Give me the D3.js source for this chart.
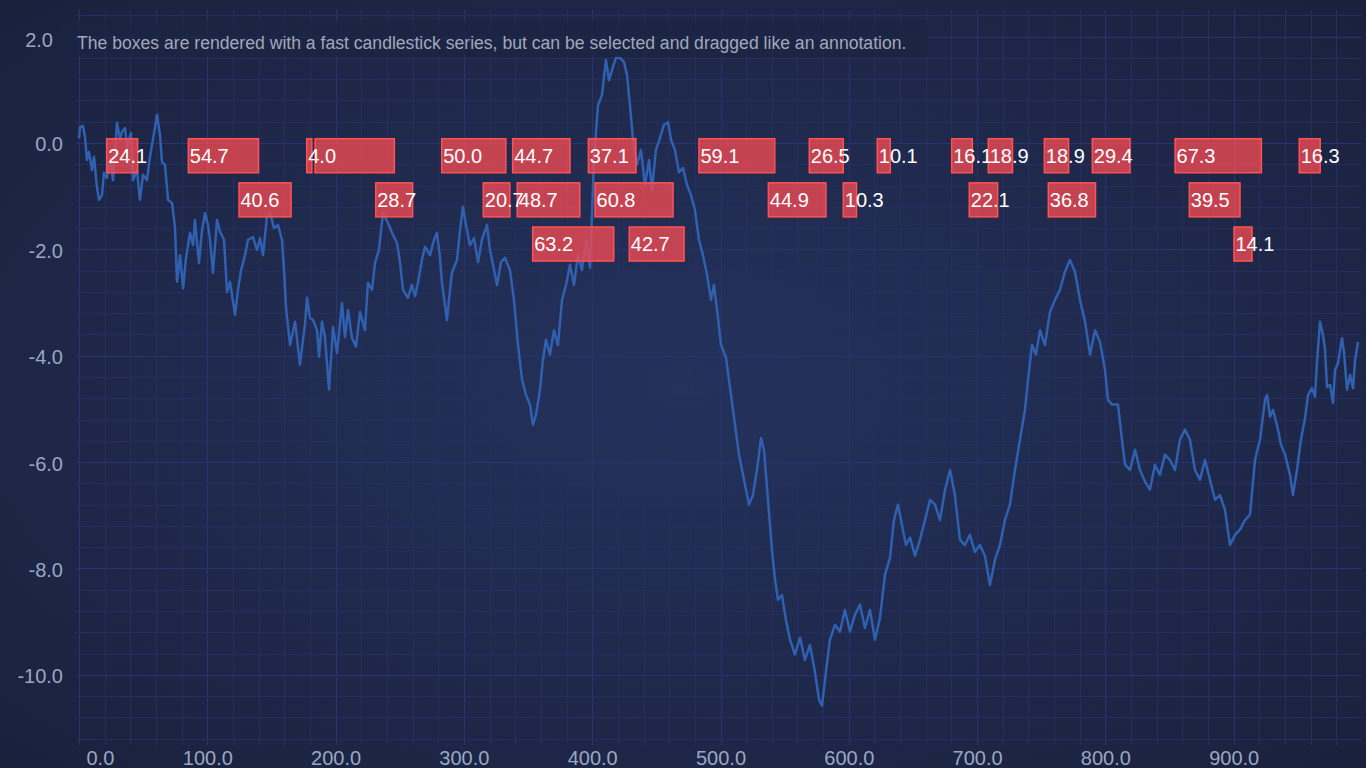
<!DOCTYPE html>
<html>
<head>
<meta charset="utf-8">
<script src="https://cdn.jsdelivr.net/npm/d3@7"></script>
<style>
html, body { margin: 0; padding: 0; background: #1c2442; overflow: hidden; }
svg { display: block; }
</style>
</head>
<body>
<script>
// random walk series (x, y)
const seriesX = [0, 0.8, 3.1, 4.7, 6.2, 7.8, 10.1, 11.7, 14.0, 15.6, 17.9, 19.5, 21.8, 24.2, 26.5, 29.6, 32.0, 33.5, 35.9, 37.4,
    40.5, 42.1, 45.2, 47.5, 49.9, 53.0, 55.3, 58.5, 60.8, 63.1, 64.7, 67.0, 69.4, 72.5, 74.8, 76.4, 78.7, 81.1, 83.4, 86.5,
    88.9, 90.4, 93.5, 95.9, 98.2, 100.5, 102.1, 104.4, 107.6, 109.9, 113.0, 115.4, 117.7, 121.6, 123.9, 126.3, 129.4, 131.7, 135.6, 138.7,
    141.1, 143.4, 146.5, 148.9, 152.0, 155.1, 158.2, 159.8, 161.3, 164.5, 168.4, 172.2, 176.1, 177.7, 180.0, 182.4, 185.5, 187.1, 189.4, 191.7,
    194.9, 198.0, 201.1, 205.0, 207.3, 209.7, 212.8, 215.9, 219.0, 222.9, 225.2, 228.4, 230.7, 233.8, 236.9, 240.8, 244.0, 247.8, 250.2, 252.5,
    256.4, 259.5, 261.9, 264.2, 267.3, 269.7, 273.6, 276.7, 279.0, 281.4, 282.9, 286.8, 289.2, 290.7, 294.6, 297.0, 299.3, 301.6, 304.7, 307.9,
    311.0, 314.1, 318.0, 320.3, 323.5, 325.8, 328.9, 332.0, 335.9, 339.0, 342.2, 345.3, 348.4, 351.5, 353.8, 356.2, 359.3, 361.6, 364.0, 367.1,
    370.2, 373.3, 376.5, 379.6, 382.7, 385.8, 388.9, 392.0, 395.2, 398.3, 401.4, 404.5, 407.6, 410.7, 413.1, 415.4, 418.5, 421.7, 424.8, 427.1,
    429.4, 431.8, 434.9, 438.0, 441.1, 444.3, 446.6, 449.7, 452.8, 455.9, 459.1, 461.4, 464.5, 467.6, 470.8, 473.9, 477.0, 480.1, 483.2, 486.3,
    489.5, 492.6, 494.9, 497.3, 500.4, 504.3, 508.2, 511.3, 514.4, 518.3, 522.2, 525.3, 528.4, 531.6, 533.9, 537.0, 540.1, 542.5, 544.8, 547.9,
    551.0, 554.2, 558.0, 562.0, 565.8, 569.7, 573.6, 576.8, 579.1, 582.2, 585.3, 589.2, 593.1, 597.0, 600.9, 604.8, 608.7, 612.6, 616.5, 620.4,
    624.3, 628.2, 632.1, 635.2, 638.3, 641.4, 644.6, 647.7, 651.6, 655.5, 659.4, 663.3, 667.2, 671.1, 675.0, 678.9, 682.7, 686.6, 690.5, 694.4,
    698.3, 702.2, 706.1, 710.0, 713.9, 717.8, 721.7, 725.6, 729.5, 733.4, 737.3, 739.7, 742.8, 745.9, 749.0, 752.9, 756.8, 760.7, 764.6, 768.5,
    772.4, 776.3, 780.2, 784.1, 788.0, 791.9, 795.8, 799.7, 802.0, 805.1, 809.8, 812.9, 815.3, 819.2, 823.1, 827.0, 830.9, 834.7, 838.6, 842.5,
    846.4, 850.3, 854.2, 858.1, 862.0, 865.9, 869.8, 873.7, 877.6, 881.5, 885.4, 889.3, 893.2, 897.1, 901.0, 904.9, 908.8, 912.7, 916.6, 920.5,
    924.4, 926.0, 928.3, 930.6, 933.7, 936.9, 940.0, 943.9, 946.2, 949.3, 952.4, 955.6, 957.9, 961.0, 963.4, 964.9, 967.3, 969.6, 971.2, 972.7,
    975.1, 977.4, 979.0, 981.3, 984.4, 986.0, 988.3, 990.7, 993.0, 994.6, 996.9];
const seriesY = [0.09, 0.30, 0.32, 0.11, -0.32, -0.17, -0.51, -0.26, -0.83, -1.07, -0.98, -0.56, -0.66, -0.32, -0.70, 0.38, 0.06, 0.21, 0.28, -0.08,
    0.19, -0.70, -0.51, -1.07, -0.60, -0.70, -0.26, 0.19, 0.53, 0.15, -0.36, -0.41, -1.07, -1.13, -1.58, -2.61, -2.11, -2.73, -2.16, -1.69,
    -1.92, -1.45, -2.26, -1.64, -1.32, -1.54, -1.82, -2.44, -1.45, -1.67, -1.82, -2.80, -2.61, -3.23, -2.76, -2.39, -2.11, -1.82, -1.77, -2.01,
    -1.79, -2.11, -1.39, -1.32, -1.60, -1.54, -1.82, -2.39, -3.08, -3.80, -3.36, -4.17, -3.42, -2.91, -3.29, -3.33, -3.52, -4.02, -3.36, -3.65,
    -4.64, -3.46, -3.95, -3.01, -3.65, -3.14, -3.67, -3.83, -3.18, -3.52, -2.63, -2.76, -2.26, -2.01, -1.32, -1.50, -1.69, -1.88, -2.24, -2.76,
    -2.91, -2.67, -2.88, -2.63, -2.20, -1.95, -2.11, -1.82, -1.69, -2.16, -2.63, -3.33, -2.76, -2.44, -2.20, -1.64, -1.20, -1.54, -1.92, -1.79,
    -2.24, -1.82, -1.54, -2.01, -2.39, -2.67, -2.24, -2.16, -2.39, -2.95, -3.80, -4.45, -4.74, -4.92, -5.30, -5.11, -4.64, -4.08, -3.70, -3.98,
    -3.52, -3.80, -2.95, -2.67, -2.29, -2.67, -2.11, -2.39, -1.82, -2.35, -0.32, 0.71, 0.90, 1.56, 1.18, 1.37, 1.60, 1.60, 1.52, 1.28,
    0.71, 0.06, -0.41, -0.13, -0.79, -0.32, -0.88, -0.13, 0.09, 0.34, 0.39, 0.06, -0.13, -0.55, -0.47, -0.79, -0.98, -1.26, -1.82, -2.11,
    -2.48, -2.95, -2.67, -3.14, -3.80, -4.04, -4.74, -5.30, -5.86, -6.33, -6.80, -6.62, -6.15, -5.55, -5.77, -6.71, -7.65, -8.21, -8.59, -8.50,
    -8.97, -9.34, -9.62, -9.30, -9.72, -9.44, -9.94, -10.47, -10.58, -9.94, -9.34, -9.06, -9.19, -8.78, -9.19, -8.87, -8.68, -9.12, -8.78, -9.34,
    -8.93, -8.12, -7.80, -7.09, -6.80, -7.18, -7.56, -7.42, -7.76, -7.46, -7.09, -6.71, -6.80, -7.09, -6.52, -6.15, -6.62, -7.46, -7.56, -7.37,
    -7.69, -7.56, -7.76, -8.31, -7.84, -7.56, -7.09, -6.80, -6.15, -5.58, -5.02, -4.45, -3.80, -3.98, -3.52, -3.80, -3.18, -2.95, -2.76, -2.42,
    -2.20, -2.42, -2.95, -3.36, -3.98, -3.52, -3.74, -4.27, -4.83, -4.92, -4.92, -5.58, -6.05, -6.15, -5.77, -6.15, -6.37, -6.52, -6.05, -6.24,
    -5.86, -5.96, -6.15, -5.58, -5.39, -5.58, -6.15, -6.33, -5.96, -6.33, -6.71, -6.62, -6.90, -7.56, -7.37, -7.27, -7.09, -6.99, -5.96, -5.58,
    -4.83, -4.74, -5.15, -5.02, -5.30, -5.68, -5.86, -6.24, -6.62, -6.15, -5.58, -5.17, -4.74, -4.61, -4.77, -4.12, -3.36, -3.61, -3.89, -4.59,
    -4.55, -4.89, -4.27, -4.14, -3.67, -3.95, -4.64, -4.36, -4.61, -4.08, -3.74];

// boxes: start x, width, row, label
const boxStart = [21.6, 85.2, 177.5, 184.0, 282.7, 338.0, 397.0, 483.2, 569.2, 622.2, 680.2, 708.7, 752.4, 789.8, 854.3, 951.1,
    124.7, 231.3, 315.1, 341.6, 402.2, 537.3, 595.7, 693.9, 755.5, 865.4,
    353.6, 428.9, 900.2];
const boxWidth = [24.1, 54.7, 4.0, 61.8, 50.0, 44.7, 37.1, 59.1, 26.5, 10.1, 16.1, 18.9, 18.9, 29.4, 67.3, 16.3,
    40.6, 28.7, 20.7, 48.7, 60.8, 44.9, 10.3, 22.1, 36.8, 39.5,
    63.2, 42.7, 14.1];
const boxRow = [0, 0, 0, 0, 0, 0, 0, 0, 0, 0, 0, 0, 0, 0, 0, 0,
    1, 1, 1, 1, 1, 1, 1, 1, 1, 1,
    2, 2, 2];
const boxLabels = ["24.1", "54.7", "4.0", "", "50.0", "44.7", "37.1", "59.1", "26.5", "10.1", "16.1", "18.9", "18.9", "29.4", "67.3", "16.3",
    "40.6", "28.7", "20.7", "48.7", "60.8", "44.9", "10.3", "22.1", "36.8", "39.5",
    "63.2", "42.7", "14.1"];
const rowTop = [0.08, -0.75, -1.58];
const boxHeight = 0.64;

const xTicks = [0, 100, 200, 300, 400, 500, 600, 700, 800, 900];
const yTicks = [2, 0, -2, -4, -6, -8, -10];
const noteText = "The boxes are rendered with a fast candlestick series, but can be selected and dragged like an annotation.";

const width = 1366, height = 768;
const plot = {left: 76, right: 1361, top: 10, bottom: 745};

const svg = d3.select("body").append("svg")
    .attr("width", width)
    .attr("height", height);

const defs = svg.append("defs");
const grad = defs.append("radialGradient")
    .attr("id", "bg")
    .attr("cx", "50%").attr("cy", "50%").attr("r", "70%");
grad.append("stop").attr("offset", "0%").attr("stop-color", "#24325c");
grad.append("stop").attr("offset", "100%").attr("stop-color", "#1a213d");

defs.append("clipPath").attr("id", "plotClip")
    .append("rect")
    .attr("x", plot.left).attr("y", plot.top)
    .attr("width", plot.right - plot.left).attr("height", plot.bottom - plot.top);

svg.append("rect")
    .attr("width", width).attr("height", height)
    .attr("fill", "url(#bg)");

const xScale = d3.scaleLinear().domain([0, 1000]).range([79, 1362]);
const yScale = d3.scaleLinear().domain([-11.32, 2.5]).range([plot.bottom, plot.top]);

// grid lines
const grid = svg.append("g").attr("class", "grid");
const xMinor = d3.range(0, 1000, 20);
const yMinor = d3.range(-28, 7).map((i) => i * 0.4);

grid.selectAll("line.xminor").data(xMinor).enter().append("line")
    .attr("class", "xminor")
    .attr("x1", (d) => Math.round(xScale(d)) + 0.5)
    .attr("x2", (d) => Math.round(xScale(d)) + 0.5)
    .attr("y1", plot.top).attr("y2", plot.bottom)
    .attr("stroke", (d) => d % 100 === 0 ? "#2a3272" : "#252d62")
    .attr("stroke-width", 1);

grid.selectAll("line.yminor").data(yMinor).enter().append("line")
    .attr("class", "yminor")
    .attr("x1", plot.left).attr("x2", plot.right)
    .attr("y1", (d) => Math.round(yScale(d)) + 0.5)
    .attr("y2", (d) => Math.round(yScale(d)) + 0.5)
    .attr("stroke", (d) => Math.abs(d / 2 - Math.round(d / 2)) < 0.01 ? "#2a3272" : "#252d62")
    .attr("stroke-width", 1);

// the line series
const line = d3.line()
    .x((d, i) => xScale(seriesX[i]))
    .y((d) => yScale(d));

svg.append("g").attr("clip-path", "url(#plotClip)")
    .append("path")
    .datum(seriesY)
    .attr("d", line)
    .attr("fill", "none")
    .attr("stroke", "#3060b0")
    .attr("stroke-width", 2.5)
    .attr("stroke-linejoin", "round");

// boxes
const boxes = svg.append("g").attr("class", "box").attr("clip-path", "url(#plotClip)");
boxStart.forEach((start, i) => {
    const top = rowTop[boxRow[i]];
    const x0 = xScale(start), x1 = xScale(start + boxWidth[i]);
    const y0 = yScale(top), y1 = yScale(top - boxHeight);
    boxes.append("rect")
        .attr("x", x0).attr("y", y0)
        .attr("width", x1 - x0).attr("height", y1 - y0)
        .attr("fill", "#ee4a52")
        .attr("fill-opacity", 0.8)
        .attr("stroke", "#ff5252")
        .attr("stroke-width", 1.5);
});
boxStart.forEach((start, i) => {
    const top = rowTop[boxRow[i]];
    boxes.append("text")
        .attr("x", xScale(start) + 1.5)
        .attr("y", yScale(top - boxHeight / 2))
        .attr("dy", "0.36em")
        .style("font-family", '"Liberation Sans", Arial, sans-serif')
        .style("font-size", "20px")
        .attr("fill", "#ffffff")
        .text(boxLabels[i]);
});

// annotation text
svg.append("rect")
    .attr("x", 62).attr("y", 20)
    .attr("width", 866).attr("height", 37)
    .attr("fill", "#1c2443")
    .attr("fill-opacity", 0.75);
svg.append("text")
    .attr("x", 77).attr("y", 49)
    .style("font-family", '"Liberation Sans", Arial, sans-serif')
    .style("font-size", "17.6px")
    .attr("fill", "#a0a8bb")
    .text(noteText);

// axes
const xAxis = d3.axisBottom(xScale).tickValues(xTicks).tickSize(0).tickFormat((d) => d.toFixed(1));
const yAxis = d3.axisLeft(yScale).tickValues(yTicks).tickSize(0).tickFormat((d) => d.toFixed(1));

const gx = svg.append("g")
    .attr("class", "xaxis")
    .attr("transform", "translate(0," + 751 + ")")
    .call(xAxis);
const gy = svg.append("g")
    .attr("class", "yaxis")
    .attr("transform", "translate(" + 63 + ",0)")
    .call(yAxis);

[gx, gy].forEach((g) => {
    g.select(".domain").remove();
    g.selectAll("text")
        .style("font-family", '"Liberation Sans", Arial, sans-serif')
        .style("font-size", "20px")
        .attr("fill", "#9aa6c2");
});
gx.selectAll("text").attr("dy", "0.71em").attr("y", 0);
gy.selectAll("text").attr("x", 0).attr("dy", "0.4em");

// first x label sits inside the axis, top y label is pulled in
gx.selectAll(".tick").filter((d) => d === 0).select("text")
    .attr("text-anchor", "start").attr("x", 7);
gy.selectAll(".tick").filter((d) => d === 2).select("text")
    .attr("x", -10).attr("dy", "0.5em");
</script>
</body>
</html>
